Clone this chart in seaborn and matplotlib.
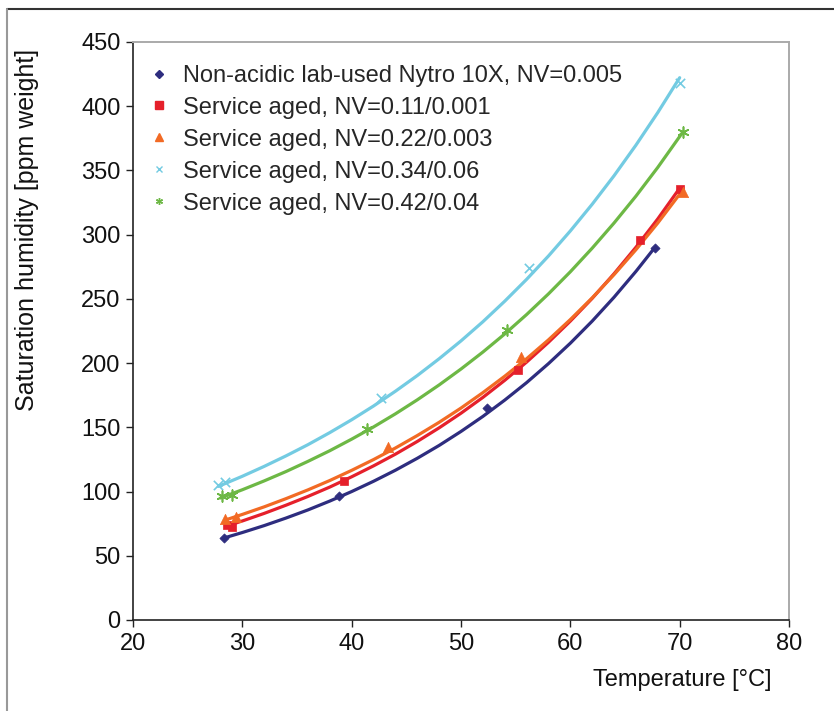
import matplotlib
matplotlib.use("Agg")
import matplotlib.pyplot as plt
import seaborn as sns
import pandas as pd
from matplotlib.lines import Line2D

# ---------------- data ----------------
labels = [
    "Non-acidic lab-used Nytro 10X, NV=0.005",
    "Service aged, NV=0.11/0.001",
    "Service aged, NV=0.22/0.003",
    "Service aged, NV=0.34/0.06",
    "Service aged, NV=0.42/0.04",
]

# measured points
nytro_T = [28.3, 38.8, 52.4, 67.7]
nytro_H = [63.8, 96.5, 165.0, 289.6]
s011_T = [28.6, 29.1, 39.3, 55.2, 66.4, 70.0]
s011_H = [74.0, 72.4, 108.2, 194.6, 295.9, 335.6]
s022_T = [28.4, 29.4, 43.3, 55.5, 70.3]
s022_H = [78.6, 80.2, 134.7, 204.8, 333.2]
s034_T = [27.8, 28.4, 42.7, 56.2, 70.0]
s034_H = [105.1, 107.4, 172.8, 274.1, 418.1]
s042_T = [28.1, 29.1, 41.4, 54.2, 70.3]
s042_H = [96.5, 97.3, 148.7, 225.8, 379.9]

# fitted curves
curve_T_nytro = [28.3, 30, 32, 34, 36, 38, 40, 42, 44, 46, 48, 50, 52, 54, 56, 58, 60, 62, 64, 66, 67.7]
curve_H_nytro = [63.8, 68.1, 73.5, 79.4, 85.7, 92.6, 100.0, 108.0, 116.6, 125.9, 135.9, 146.8,
                 158.5, 171.2, 184.8, 199.6, 215.5, 232.7, 251.3, 271.4, 289.7]
curve_T_011 = [28.5, 30, 32, 34, 36, 38, 40, 42, 44, 46, 48, 50, 52, 54, 56, 58, 60, 62, 64, 66, 68, 70]
curve_H_011 = [73.0, 77.1, 83.0, 89.4, 96.2, 103.5, 111.5, 120.0, 129.1, 139.0, 149.6, 161.0,
               173.3, 186.6, 200.8, 216.2, 232.7, 250.4, 269.6, 290.2, 312.3, 336.2]
curve_T_022 = [28.5, 30, 32, 34, 36, 38, 40, 42, 44, 46, 48, 50, 52, 54, 56, 58, 60, 62, 64, 66, 68, 70.3]
curve_H_022 = [78.0, 82.2, 88.1, 94.5, 101.3, 108.6, 116.5, 124.9, 133.9, 143.6, 153.9, 165.0,
               177.0, 189.8, 203.4, 218.1, 233.9, 250.8, 268.9, 288.3, 309.1, 334.9]
curve_T_034 = [27.8, 30, 32, 34, 36, 38, 40, 42, 44, 46, 48, 50, 52, 54, 56, 58, 60, 62, 64, 66, 68, 70]
curve_H_034 = [104.0, 111.9, 119.6, 127.8, 136.5, 145.9, 155.9, 166.6, 178.1, 190.3, 203.4, 217.3,
               232.2, 248.2, 265.2, 283.4, 302.9, 323.7, 345.9, 369.7, 395.1, 422.2]
curve_T_042 = [28.0, 30, 32, 34, 36, 38, 40, 42, 44, 46, 48, 50, 52, 54, 56, 58, 60, 62, 64, 66, 68, 70.3]
curve_H_042 = [95.0, 101.4, 108.3, 115.6, 123.5, 131.8, 140.8, 150.3, 160.5, 171.4, 183.0, 195.4,
               208.6, 222.7, 237.8, 253.9, 271.1, 289.5, 309.1, 330.0, 352.4, 380.0]

x_ticks = [20, 30, 40, 50, 60, 70, 80]
y_ticks = [0, 50, 100, 150, 200, 250, 300, 350, 400, 450]

# ---------------- styling ----------------
colors = ["#2E2D7F", "#E5202B", "#F26A24", "#73CBE2", "#6DB845"]
markers = ["D", "s", "^", "x", (6, 2, 0)]
msizes = [22, 40, 55, 45, 60]

sns.set_theme(style="white")
plt.rcParams["font.family"] = ["Liberation Sans", "DejaVu Sans"]

fig = plt.figure(figsize=(8.34, 7.11), dpi=100)
ax = fig.add_axes([133 / 834, 1 - 620 / 711, (789 - 133) / 834, (620 - 42) / 711])

points = [(nytro_T, nytro_H), (s011_T, s011_H), (s022_T, s022_H), (s034_T, s034_H), (s042_T, s042_H)]
curves = [(curve_T_nytro, curve_H_nytro), (curve_T_011, curve_H_011), (curve_T_022, curve_H_022),
          (curve_T_034, curve_H_034), (curve_T_042, curve_H_042)]

for (ct, ch), c in zip(curves, colors):
    sns.lineplot(x=ct, y=ch, color=c, lw=2.3, ax=ax, legend=False, estimator=None, sort=False)

for (pt, ph), c, m, s, lab in zip(points, colors, markers, msizes, labels):
    if m in ("x",) or isinstance(m, tuple):
        sns.scatterplot(x=pt, y=ph, marker=m, s=s, color=c, linewidths=1.2, ax=ax, zorder=5)
    else:
        sns.scatterplot(x=pt, y=ph, marker=m, s=s, color=c, edgecolor=c, linewidth=0.5, ax=ax, zorder=5)

handles = []
for c, m in zip(colors, markers):
    if m == "x" or isinstance(m, tuple):
        handles.append(Line2D([], [], ls="none", marker=m, color=c, markersize=5, mew=1.0))
    else:
        handles.append(Line2D([], [], ls="none", marker=m, color=c, mec=c,
                              markersize=4.5 if m == "D" else 5.5))
ax.legend(handles, labels, loc="upper left", bbox_to_anchor=(0.0, 0.985), frameon=False,
          fontsize=17, handlelength=1.0, handletextpad=0.5, labelspacing=0.42, borderaxespad=0.2)

ax.set_xlim(20, 80)
ax.set_ylim(0, 450)
ax.set_xticks(x_ticks)
ax.set_yticks(y_ticks)
ax.tick_params(axis="both", labelsize=17, direction="out", length=5, width=1, color="#222222",
               labelcolor="#111111", pad=4)
ax.tick_params(axis="x", pad=4)
ax.tick_params(axis="both", which="both", left=True, bottom=True)

for side in ["left", "bottom"]:
    ax.spines[side].set_color("#222222")
    ax.spines[side].set_linewidth(1.2)
for side in ["top", "right"]:
    ax.spines[side].set_color("#AAAAAA")
    ax.spines[side].set_linewidth(1.4)

ax.set_xlabel("Temperature [°C]", fontsize=17, color="#111111")
ax.set_ylabel("Saturation humidity [ppm weight]", fontsize=18, color="#111111")
ax.xaxis.set_label_coords(0.838, -0.085)
ax.yaxis.set_label_coords(-0.143, 0.675)

# outer frame
fig.add_artist(Line2D([7 / 834, 1.0], [1 - 9 / 711, 1 - 9 / 711], transform=fig.transFigure,
                      color="#333333", lw=1.5))
fig.add_artist(Line2D([7 / 834, 7 / 834], [0, 1 - 9 / 711], transform=fig.transFigure,
                      color="#999999", lw=1.5))

fig.savefig("out.png", dpi=100)
